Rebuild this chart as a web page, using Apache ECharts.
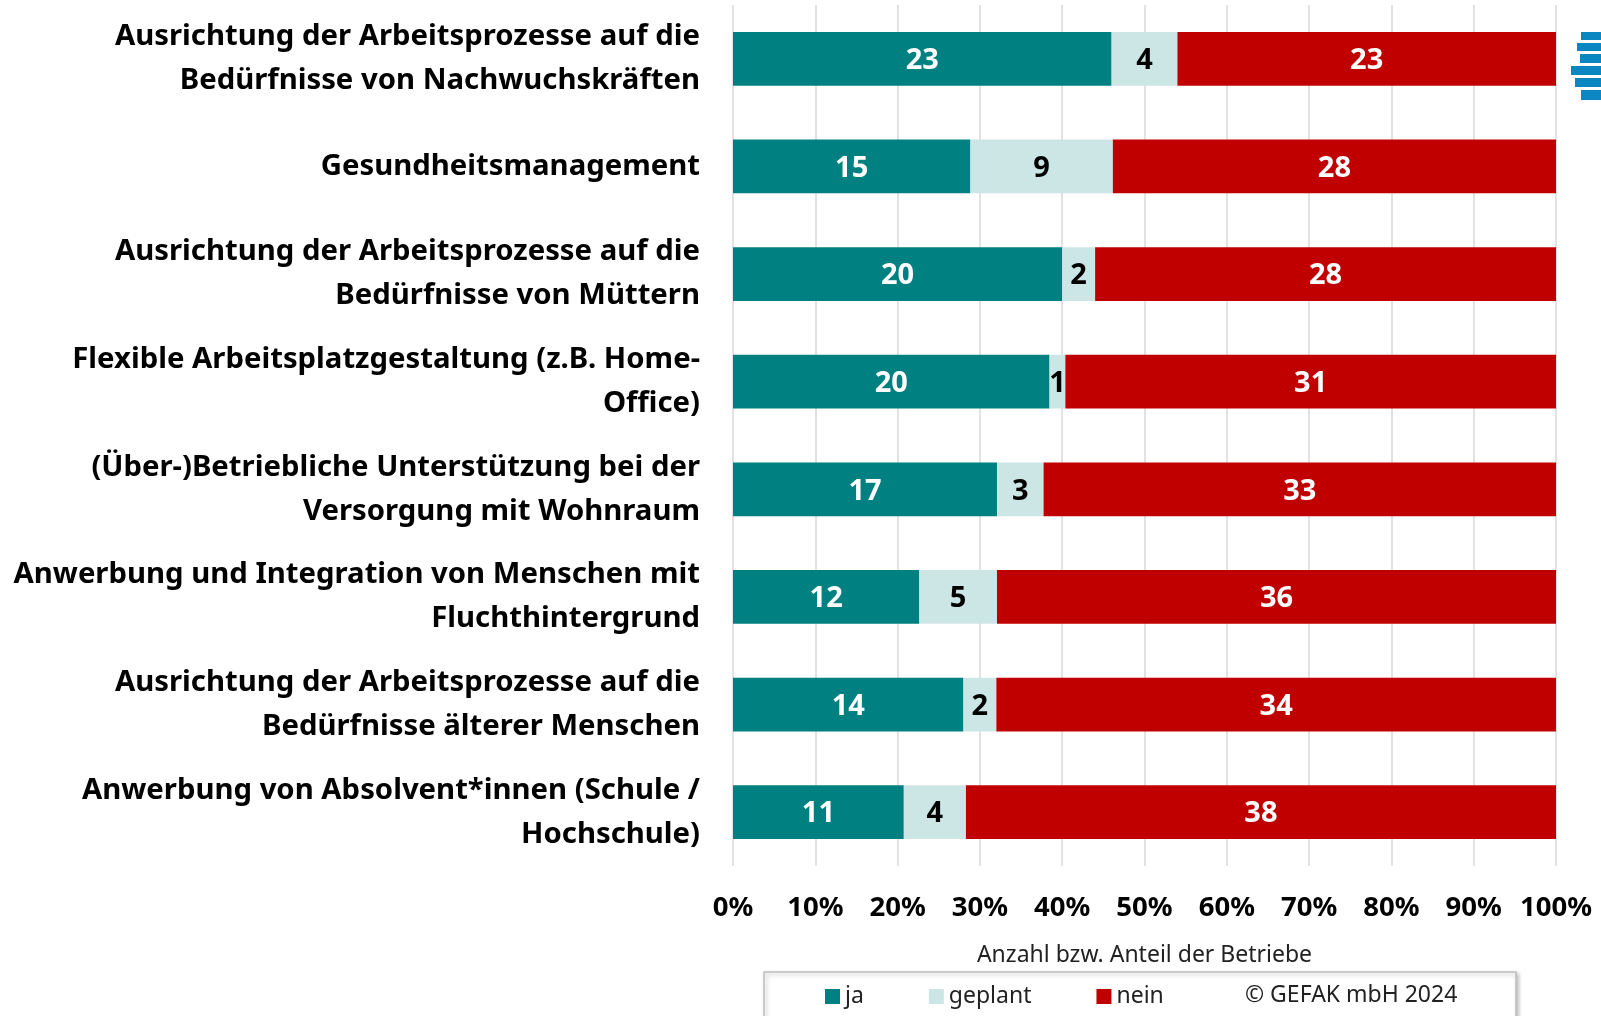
<!DOCTYPE html>
<html>
<head>
<meta charset="utf-8">
<script src="https://cdn.jsdelivr.net/npm/echarts@6/dist/echarts.min.js"></script>
<style>
  html, body { margin: 0; padding: 0; background: #fff; }
  #chart { width: 1601px; height: 1016px; }
</style>
</head>
<body>
<div id="chart"></div>
<script>
const categories = [
    'Ausrichtung der Arbeitsprozesse auf die\nBedürfnisse von Nachwuchskräften',
    'Gesundheitsmanagement',
    'Ausrichtung der Arbeitsprozesse auf die\nBedürfnisse von Müttern',
    'Flexible Arbeitsplatzgestaltung (z.B. Home-\nOffice)',
    '(Über-)Betriebliche Unterstützung bei der\nVersorgung mit Wohnraum',
    'Anwerbung und Integration von Menschen mit\nFluchthintergrund',
    'Ausrichtung der Arbeitsprozesse auf die\nBedürfnisse älterer Menschen',
    'Anwerbung von Absolvent*innen (Schule /\nHochschule)',
];
const ja = [23, 15, 20, 20, 17, 12, 14, 11];
const geplant = [4, 9, 2, 1, 3, 5, 2, 4];
const nein = [23, 28, 28, 31, 33, 36, 34, 38];
const tickLabels = ['0%', '10%', '20%', '30%', '40%', '50%', '60%', '70%', '80%', '90%', '100%'];

const font = '"Noto Sans", "Open Sans", sans-serif';
const totals = ja.map((v, i) => v + geplant[i] + nein[i]);

// bar length = share of all firms, label = count
const makeSeries = (name, values, color, labelColor) => ({
    name,
    type: 'bar',
    stack: 'total',
    barWidth: '50%',
    itemStyle: { color },
    data: values.map((v, i) => ({ value: (v / totals[i]) * 100, count: v })),
    label: {
        show: true,
        position: 'inside',
        offset: [0, 2],
        color: labelColor,
        fontFamily: font,
        fontWeight: 'bold',
        fontSize: 29,
        formatter: p => p.data.count,
    },
});

const chart = echarts.init(document.getElementById('chart'));
chart.setOption({
    animation: false,
    grid: { left: 733, right: 45, top: 5, bottom: 150 },
    xAxis: {
        type: 'value',
        min: 0,
        max: 100,
        interval: 10,
        axisLine: { show: false },
        axisTick: { show: false },
        splitLine: { lineStyle: { color: '#d9d9d9', width: 1.5 } },
        axisLabel: {
            margin: 28,
            fontFamily: font,
            fontWeight: 'bold',
            fontSize: 27.5,
            color: '#000',
            formatter: v => tickLabels[v / 10],
        },
        name: 'Anzahl bzw. Anteil der Betriebe',
        nameLocation: 'middle',
        nameGap: 78,
        nameTextStyle: { fontFamily: font, fontSize: 23, color: '#222' },
    },
    yAxis: {
        type: 'category',
        inverse: true,
        data: categories,
        axisLine: { show: false },
        axisTick: { show: false },
        axisLabel: {
            margin: 33,
            align: 'right',
            padding: [4, 0, 0, 0],
            fontFamily: font,
            fontWeight: 'bold',
            fontSize: 29.3,
            lineHeight: 44,
            color: '#000',
        },
    },
    legend: {
        left: 820,
        top: 980,
        itemWidth: 15,
        itemHeight: 15,
        itemGap: 65,
        icon: 'rect',
        textStyle: { fontFamily: font, fontSize: 23, color: '#222' },
        data: ['ja', 'geplant', 'nein'],
    },
    graphic: [
        {
            type: 'rect',
            z: -1,
            shape: { x: 764, y: 972, width: 752, height: 60 },
            style: {
                fill: '#fff',
                stroke: '#bfbfbf',
                lineWidth: 1.5,
                shadowBlur: 4,
                shadowOffsetX: 2,
                shadowOffsetY: 2,
                shadowColor: 'rgba(0,0,0,0.25)',
            },
        },
        {
            type: 'text',
            left: 1245,
            top: 984,
            style: { text: '© GEFAK mbH 2024', font: `23px ${font}`, fill: '#222' },
        },
        {
            type: 'group',
            left: 1571,
            top: 32,
            children: [
                { type: 'rect', shape: { x: 10, y: 0, width: 20, height: 8 }, style: { fill: '#0a86c0' } },
                { type: 'rect', shape: { x: 6, y: 11, width: 24, height: 8 }, style: { fill: '#0a86c0' } },
                { type: 'rect', shape: { x: 9, y: 22, width: 21, height: 9 }, style: { fill: '#0a86c0' } },
                { type: 'rect', shape: { x: 0, y: 34, width: 30, height: 9 }, style: { fill: '#0a86c0' } },
                { type: 'rect', shape: { x: 4, y: 46, width: 26, height: 9 }, style: { fill: '#0a86c0' } },
                { type: 'rect', shape: { x: 10, y: 58, width: 20, height: 10 }, style: { fill: '#0a86c0' } },
            ],
        },
    ],
    series: [
        makeSeries('ja', ja, '#008080', '#fff'),
        makeSeries('geplant', geplant, '#cce5e5', '#000'),
        makeSeries('nein', nein, '#c00000', '#fff'),
    ],
});
</script>
</body>
</html>
